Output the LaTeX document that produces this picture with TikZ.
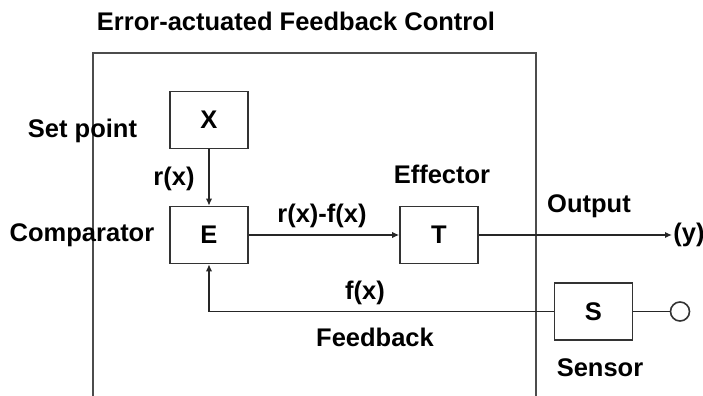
\documentclass[tikz,border=0pt]{standalone}
\usepackage{fontspec}
\setmainfont{Liberation Sans}
\usepackage{tikz}
\usetikzlibrary{positioning, arrows.meta}

\begin{document}
\begin{tikzpicture}[
    x=0.5pt, y=-0.5pt,
    font=\bfseries\fontsize{12.75}{15}\selectfont,
    blockbox/.style={rectangle, draw=black!80, line width=0.8pt, minimum width=39pt, minimum height=28.5pt, inner sep=0pt},
    arr/.style={-{Latex[length=3.5pt, width=3.2pt]}, line width=0.8pt, draw=black!85},
    wire/.style={line width=0.8pt, draw=black!85},
    txtlabel/.style={anchor=base, inner sep=0pt},
]
\useasboundingbox (0,0) rectangle (703,396);

\draw[line width=1pt, draw=black!70] (93,396) -- (93,53) -- (536,53) -- (536,396);

\node[txtlabel] (title) at (296,31) {Error-actuated Feedback Control};

\node[blockbox] (X) at (209,120) {X};
\node[blockbox] (E) at (209,235) {E};
\node[blockbox] (T) at (439,235) {T};
\node[blockbox, fill=white] (S) at (593.5,311.5) {S};
\node[circle, draw=black!80, line width=0.8pt, fill=white, minimum size=9.5pt, inner sep=0pt] (probe) at (680,311.5) {};
\node[anchor=west, inner sep=0.5pt] (yout) at (672,235) {(y)};

\node[txtlabel] (setpoint) at (82.5,137) {Set point};
\node[txtlabel] (rx) at (174,185) {r(x)};
\node[txtlabel] (comparator) at (82,241) {Comparator};
\node[txtlabel] (err) at (322,222) {r(x)-f(x)};
\node[txtlabel] (effector) at (442,184) {Effector};
\node[txtlabel] (output) at (589,212) {Output};
\node[txtlabel] (fx) at (365,299) {f(x)};
\node[txtlabel] (feedback) at (375,346) {Feedback};
\node[txtlabel] (sensor) at (600,376) {Sensor};

\draw[arr] (X) -- (E);
\draw[arr] (E) -- (T);
\draw[arr] (T.east) -- (yout.west);
\draw[arr] (S.west) -| (E.south);
\draw[wire] (S) -- (probe);

\end{tikzpicture}
\end{document}
